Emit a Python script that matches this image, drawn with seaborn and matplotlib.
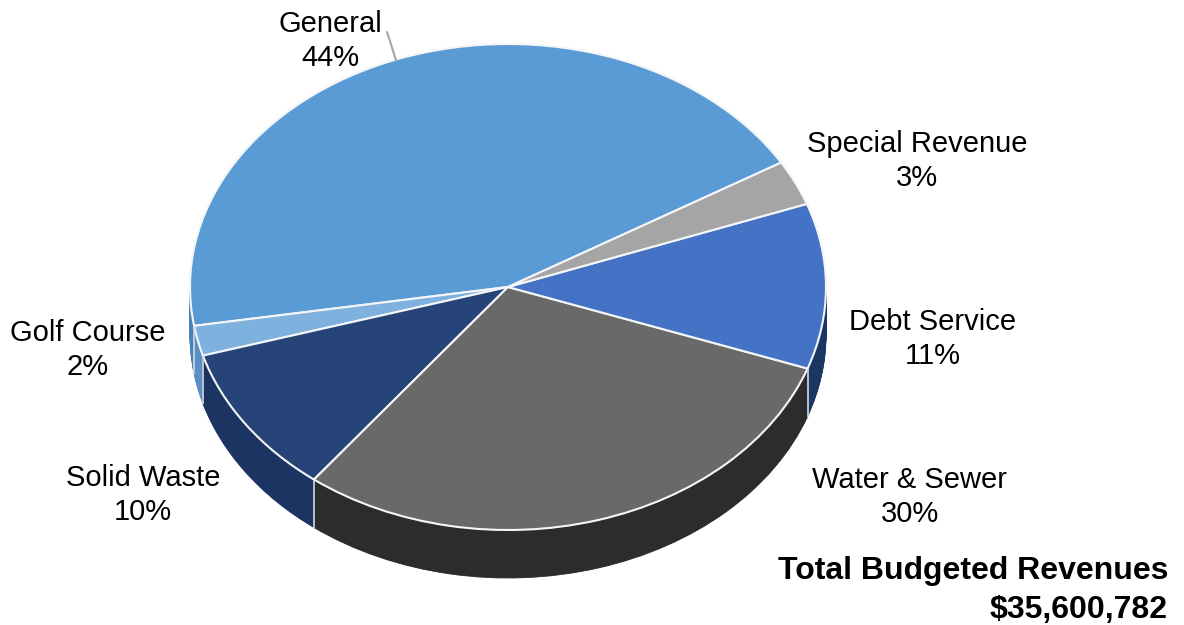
import numpy as np
import matplotlib
matplotlib.use("Agg")
import matplotlib.pyplot as plt
import seaborn as sns

# Budgeted revenue shares by fund, counter-clockwise from the start angle
funds = ["General", "Golf Course", "Solid Waste", "Water & Sewer", "Debt Service", "Special Revenue"]
shares = [44, 2, 10, 30, 11, 3]
top_colors = ["#5b9bd5", "#7fb1df", "#264478", "#696969", "#4472c4", "#a5a5a5"]
side_colors = ["#4a83ba", "#5a90c4", "#1b3461", "#2c2c2c", "#1b3663", "#777777"]
total_lines = ["Total Budgeted Revenues", "$35,600,782"]

W, H = 1184, 625
CX, CY, RX, RY = 508, 287, 318, 243   # pie ellipse in pixels
DEPTH = 48 / RY                        # extrusion height in data units
START = 30.8

sns.set_theme(style="white")
plt.rcParams["font.family"] = ["Liberation Sans", "DejaVu Sans"]

fig = plt.figure(figsize=(W / 100, H / 100), dpi=100, facecolor="white")
ax = fig.add_axes([0, 0, 1, 1])


def px(x, y):
    """Pixel position on the canvas to data coordinates."""
    return (x - CX) / RX, (CY - y) / RY


# Extruded rim: stacked copies of the pie, bottom first
for off in np.linspace(DEPTH, 0, 49):
    rim, _ = ax.pie(shares, colors=sns.color_palette(side_colors), startangle=START,
                    center=(0, -off), radius=1, wedgeprops=dict(linewidth=0.6))
    for w in rim:
        w.set_edgecolor(w.get_facecolor())

# Top face with thin light separators
wedges, _ = ax.pie(shares, colors=sns.color_palette(top_colors), startangle=START,
                   center=(0, 0), radius=1,
                   wedgeprops=dict(linewidth=1.5, edgecolor="#f4f6f8"))

# Vertical seams on the rim where visible slices meet
for w in wedges:
    a = np.deg2rad(w.theta1)
    x, y = np.cos(a), np.sin(a)
    if y < 0:
        ax.plot([x, x], [y, y - DEPTH], color="#d5d9de", lw=1.2, solid_capstyle="butt", zorder=5)

ax.set_aspect("auto")
x0, y0 = px(0, H)
x1, y1 = px(W, 0)
ax.set_xlim(x0, x1)
ax.set_ylim(y0, y1)
ax.axis("off")

# Leader line for the General label
lx, ly = zip(px(387, 32), px(396, 60))
ax.plot(lx, ly, color="#a6a6a6", lw=1.5, zorder=6)

# Slice labels
label_centers = {
    "General": (330, 41),
    "Golf Course": (88, 350),
    "Solid Waste": (143, 495),
    "Water & Sewer": (910, 497),
    "Debt Service": (933, 339),
    "Special Revenue": (917, 161),
}
for name, share in zip(funds, shares):
    tx, ty = px(*label_centers[name])
    ax.text(tx, ty, f"{name}\n{share}%", ha="center", va="center", fontsize=21,
            color="black", linespacing=1.27, zorder=7)

# Total caption, bottom right
for line, py in zip(total_lines, (571, 610)):
    tx, ty = px(1168, py)
    ax.text(tx, ty, line, ha="right", va="center", fontsize=23, fontweight="bold",
            color="black", zorder=7)

fig.savefig("out.png", dpi=100, facecolor="white")
